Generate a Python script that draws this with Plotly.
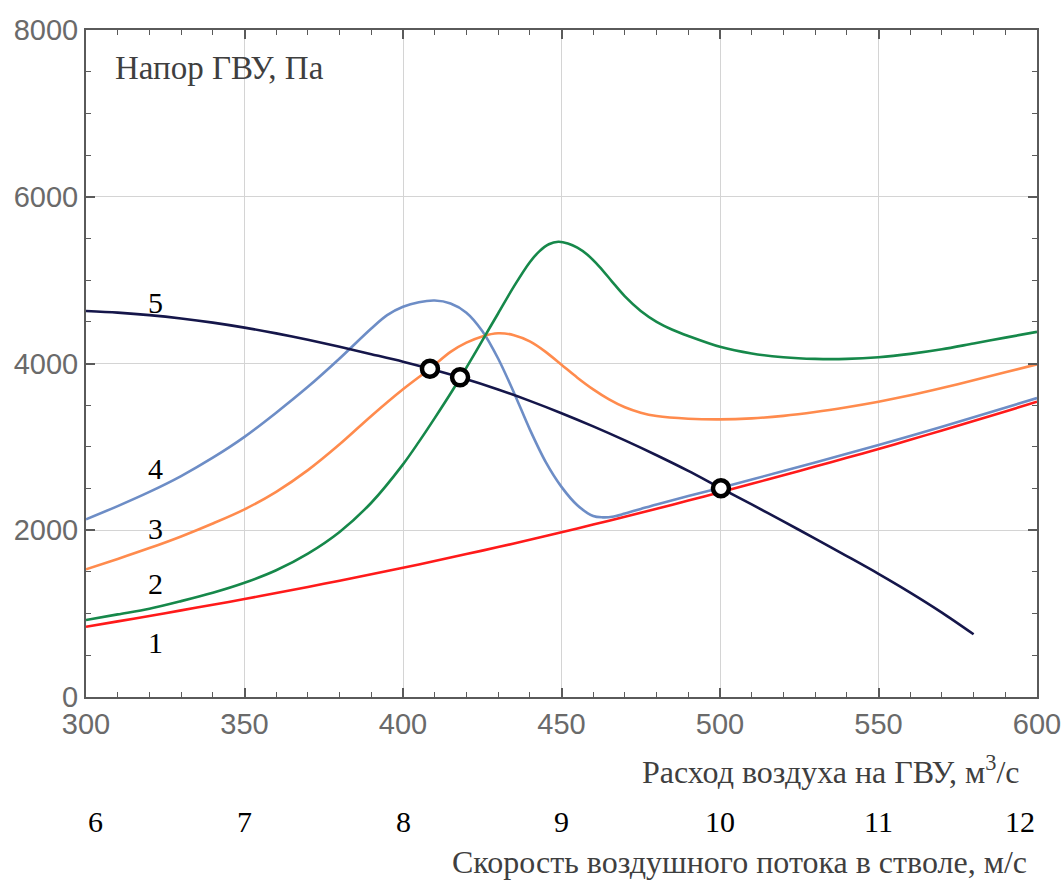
import plotly.graph_objects as go

# Air flow through the main ventilation unit (m^3/s) and the resulting pressure (Pa)
q_1 = [300, 310, 320, 330, 340, 350, 360, 370, 380, 390, 400, 410, 420, 430, 440, 450,
       460, 470, 480, 490, 500, 510, 520, 530, 540, 550, 560, 570, 580, 590, 600]
p_1 = [843, 907, 972, 1039, 1106, 1175, 1247, 1320, 1395, 1472, 1550, 1631, 1714, 1798, 1885, 1975,
       2068, 2162, 2258, 2356, 2455, 2557, 2660, 2764, 2869, 2975, 3085, 3197, 3310, 3425, 3542]

q_2 = [300, 310, 320, 330, 340, 350, 360, 370, 380, 390, 400, 405, 410, 415, 418, 420, 425,
       430, 435, 440, 443, 446, 449, 452, 455, 458, 462, 466, 470, 475, 480, 485, 490, 500, 510,
       520, 530, 540, 550, 560, 570, 580, 590, 600]
p_2 = [923, 991, 1059, 1150, 1250, 1370, 1520, 1720, 1980, 2330, 2790, 3060, 3345, 3640, 3825,
       3950, 4275, 4600, 4925, 5215, 5345, 5430, 5460, 5440, 5390, 5310, 5160, 4980, 4805, 4630,
       4500, 4405, 4330, 4200, 4120, 4075, 4055, 4055, 4075, 4115, 4170, 4240, 4310, 4380]

q_3 = [300, 310, 320, 330, 340, 350, 360, 370, 380, 390, 400, 408.5, 415, 420, 425, 430, 435,
       440, 445, 450, 455, 460, 465, 470, 475, 480, 490, 500, 510, 520, 530, 540, 550, 560, 570,
       580, 590, 600]
p_3 = [1531, 1656, 1786, 1926, 2081, 2251, 2461, 2721, 3031, 3371, 3691, 3938, 4140, 4250, 4325,
       4362, 4340, 4265, 4140, 3985, 3830, 3690, 3570, 3475, 3410, 3370, 3338, 3330, 3342, 3372,
       3418, 3476, 3542, 3618, 3705, 3800, 3895, 3990]

q_4 = [300, 310, 320, 330, 340, 350, 360, 370, 380, 390, 395, 400, 405, 410, 415, 420, 425, 430,
       435, 440, 445, 450, 455, 460, 463, 466, 470, 475, 480, 490, 500, 520, 540, 560, 580, 600]
p_4 = [2131, 2290, 2460, 2650, 2870, 3120, 3410, 3720, 4060, 4420, 4580, 4680, 4735, 4755, 4720,
       4610, 4390, 4060, 3650, 3210, 2820, 2520, 2300, 2170, 2155, 2161, 2200, 2255, 2310, 2410,
       2508, 2710, 2917, 3131, 3355, 3585]

q_5 = [300, 310, 320, 330, 340, 350, 360, 370, 380, 390, 400, 408.5, 418, 430, 440, 450, 460,
       470, 480, 490, 500, 510, 520, 530, 540, 550, 560, 570, 580]
p_5 = [4630, 4610, 4580, 4540, 4490, 4430, 4361, 4284, 4200, 4112, 4022, 3937, 3834, 3688, 3552,
       3404, 3246, 3078, 2900, 2712, 2510, 2310, 2106, 1900, 1690, 1477, 1252, 1012, 752]

# Operating points: fan curve 5 against the network curves
op_q = [408.5, 418, 500.3]
op_p = [3937, 3834, 2504]

# Secondary scale: air velocity in the shaft (m/s); Q = v * shaft cross-section
velocity_ticks = [6, 7, 8, 9, 10, 11, 12]
SHAFT_AREA = 50

curves = [
    (q_1, p_1, "1", "#ff1a1a"),
    (q_4, p_4, "4", "#6d8dc6"),
    (q_3, p_3, "3", "#ff8b4d"),
    (q_2, p_2, "2", "#16884a"),
    (q_5, p_5, "5", "#15164a"),
]

fig = go.Figure()
for q, p, name, color in curves:
    fig.add_trace(go.Scatter(
        x=q, y=p, mode="lines", name=name,
        line=dict(color=color, width=2.6, shape="spline", smoothing=0.9),
        hoverinfo="skip",
    ))

fig.add_trace(go.Scatter(
    x=op_q, y=op_p, mode="markers", name="operating points",
    marker=dict(size=16, color="white", line=dict(color="black", width=4.5)),
))

serif = "Liberation Serif, Times New Roman, serif"
sans = "Liberation Sans, Arial, sans-serif"
title_grey = "#3f3f3f"

annotations = [
    dict(text="Напор ГВУ, Па", xref="paper", yref="paper", x=0.028, y=0.943,
         xanchor="left", yanchor="middle", showarrow=False,
         font=dict(family=serif, size=33, color=title_grey)),
    dict(text="Расход воздуха на ГВУ, м<sup>3</sup>/с", xref="paper", yref="paper",
         x=0.984, y=-0.109, xanchor="right", yanchor="middle", showarrow=False,
         font=dict(family=serif, size=32, color=title_grey)),
    dict(text="Скорость воздушного потока в стволе, м/с", xref="paper", yref="paper",
         x=0.992, y=-0.247, xanchor="right", yanchor="middle", showarrow=False,
         font=dict(family=serif, size=32, color=title_grey)),
]

# Curve numbers next to the left end of each curve
label_pos = {"5": 4737, "4": 2746, "3": 2027, "2": 1367, "1": 648}
for name, yv in label_pos.items():
    annotations.append(dict(text=name, x=321.8, y=yv, xref="x", yref="y",
                            showarrow=False, xanchor="center", yanchor="middle",
                            font=dict(family=serif, size=30, color="black")))

for i, v in enumerate(velocity_ticks):
    anchor = "left" if i == 0 else ("right" if i == len(velocity_ticks) - 1 else "center")
    annotations.append(dict(text=str(v), x=v * SHAFT_AREA, xref="x", yref="paper",
                            y=-0.187, xanchor=anchor, yanchor="middle", showarrow=False,
                            font=dict(family=serif, size=30, color="black")))

axis_common = dict(
    showgrid=True, gridcolor="#d4d4d4", gridwidth=1.3,
    showline=True, linecolor="#5a5a5a", linewidth=2, mirror="allticks",
    ticks="inside", ticklen=9, tickwidth=1.5, tickcolor="#5a5a5a",
    zeroline=False, automargin=False,
    tickfont=dict(family=sans, size=29, color="#6a6a6a"),
)

fig.update_xaxes(range=[300, 600], tickmode="linear", tick0=300, dtick=50,
                 minor=dict(dtick=10, ticks="inside", ticklen=5, tickcolor="#5a5a5a",
                            tickwidth=1.3, showgrid=False),
                 **axis_common)
fig.update_yaxes(range=[0, 8000], tickmode="linear", tick0=0, dtick=2000,
                 minor=dict(dtick=500, ticks="inside", ticklen=5, tickcolor="#5a5a5a",
                            tickwidth=1.3, showgrid=False),
                 **axis_common)

fig.update_layout(
    width=1064, height=886,
    margin=dict(l=86, r=27, t=30, b=189),
    plot_bgcolor="white", paper_bgcolor="white",
    showlegend=False,
    annotations=annotations,
)

fig.write_html("out.html")
